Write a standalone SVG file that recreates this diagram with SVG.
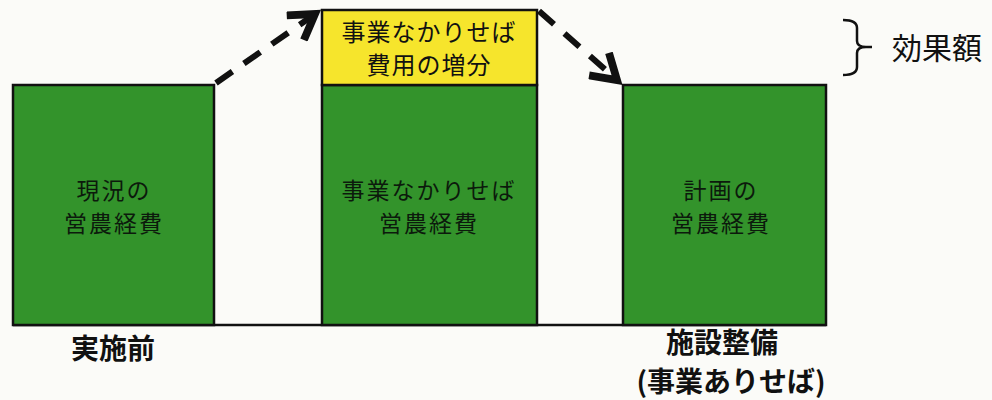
<svg xmlns="http://www.w3.org/2000/svg" width="992" height="400" viewBox="0 0 992 400">
<style>
.bg{fill:#fbfbf8}
.green{fill:#33932b;stroke:#111;stroke-width:2.5}
.yellow{fill:#f6e52c;stroke:#111;stroke-width:2.5}
.t{font-family:"Noto Sans CJK JP","Noto Sans CJK SC",sans-serif;text-anchor:middle}
.in{font-size:23px;fill:#0c1a0c;letter-spacing:2px}
.yl{font-size:24px;fill:#111;letter-spacing:1px}
.lb{font-size:28px;font-weight:bold;fill:#111}
.arrow{fill:none;stroke:#111;stroke-width:6;stroke-dasharray:20 14}
.brace{fill:none;stroke:#111;stroke-width:2.5}
</style>
<defs>
<marker id="ah" markerWidth="6" markerHeight="6" refX="4.5" refY="3" orient="auto" markerUnits="strokeWidth" viewBox="0 0 6 6">
<polyline points="0.5,0.5 4.5,3 0.5,5.5" fill="none" stroke="#111" stroke-width="1.3"/>
</marker>
</defs>
<rect class="bg" x="0" y="0" width="992" height="400"/>
<g id="baseline"><line x1="13" y1="325" x2="826" y2="325" stroke="#111" stroke-width="2.5"/></g>
<g id="node-before">
<rect class="green" x="13" y="85" width="201" height="240"/>
<text class="t in" x="114" y="199">現況の</text>
<text class="t in" x="114" y="232">営農経費</text>
</g>
<g id="node-without">
<rect class="green" x="322" y="85" width="215" height="240"/>
<text class="t in" x="429" y="199">事業なかりせば</text>
<text class="t in" x="429" y="232">営農経費</text>
</g>
<g id="node-increase">
<rect class="yellow" x="322" y="10" width="215" height="75"/>
<text class="t yl" x="429" y="41">事業なかりせば</text>
<text class="t yl" x="429" y="74">費用の増分</text>
</g>
<g id="node-plan">
<rect class="green" x="623" y="85" width="203" height="240"/>
<text class="t in" x="721" y="199">計画の</text>
<text class="t in" x="721" y="232">営農経費</text>
</g>
<g id="connectors">
<line class="arrow" x1="216" y1="83" x2="315" y2="14" marker-end="url(#ah)"/>
<line class="arrow" x1="539" y1="11" x2="617" y2="80" marker-end="url(#ah)"/>
</g>
<g id="effect">
<path class="brace" d="M843,20 Q857,20 857,28 L857,41 Q857,47 866,47 Q857,47 857,53 L857,67 Q857,75 843,75"/>
<line x1="866" y1="47" x2="872" y2="47" stroke="#111" stroke-width="2.5"/>
<text class="t" x="937" y="59" font-size="30" fill="#111">効果額</text>
</g>
<g id="labels">
<text class="t lb" x="113" y="359">実施前</text>
<text class="t lb" x="722" y="353" font-size="27">施設整備</text>
<text class="t lb" x="731" y="392" font-size="23">(事業ありせば)</text>
</g>
</svg>
